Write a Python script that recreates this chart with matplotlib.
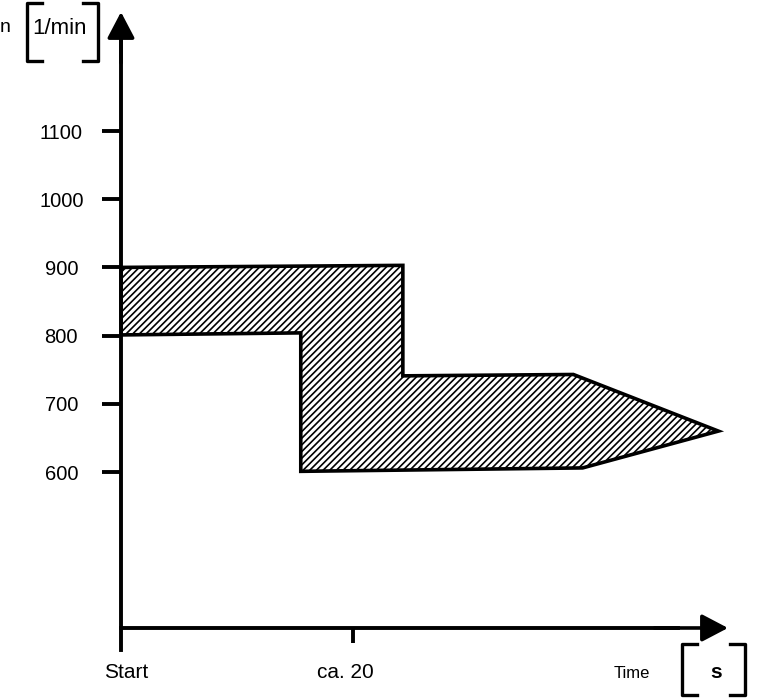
import matplotlib.pyplot as plt
from matplotlib.lines import Line2D
from matplotlib.transforms import ScaledTranslation

plt.rcParams['font.family'] = ['Liberation Sans', 'DejaVu Sans']
plt.rcParams['hatch.linewidth'] = 1.2

# speed band (n in 1/min) over time (s)
upper_t = [0, 24.3, 24.3, 39.0, 51.5]
upper_n = [900, 903, 741, 743, 660]
lower_t = [51.5, 39.8, 15.5, 15.5, 0]
lower_n = [660, 606, 601, 804, 801]

y_ticks = [600, 700, 800, 900, 1000, 1100]
x_ticks = [0, 20]
x_labels = ['Start', 'ca. 20']

fig = plt.figure(figsize=(7.68, 7.0), dpi=100)
ax = fig.add_axes([0, 0, 1, 1])
ax.set_xlim(-10.43, 55.78)
ax.set_ylim(265.7, 1292.1)

# hatched band
ax.fill(upper_t + lower_t, upper_n + lower_n, facecolor='white',
        edgecolor='black', hatch='/////', linewidth=2.6, joinstyle='miter')

# axes as crossing spines
x_axis_at = 371.3
for s in ['top', 'right']:
    ax.spines[s].set_visible(False)
ax.spines['left'].set_position(('data', 0))
ax.spines['left'].set_bounds(339, 1240)
ax.spines['left'].set_linewidth(2.8)
ax.spines['bottom'].set_position(('data', x_axis_at))
ax.spines['bottom'].set_bounds(0, 48)
ax.spines['bottom'].set_linewidth(2.8)

arrow = dict(arrowstyle='-|>,head_length=0.8,head_width=0.42', lw=2.6,
             color='black', shrinkA=0, shrinkB=0, mutation_scale=20)
ax.annotate('', xy=(0, 1274.5), xytext=(0, 1200), arrowprops=arrow)
ax.annotate('', xy=(52.33, x_axis_at), xytext=(46, x_axis_at), arrowprops=arrow)

ax.set_yticks(y_ticks)
ax.set_yticklabels([str(v) for v in y_ticks])
ax.tick_params(axis='y', length=14, width=2.8, pad=29, labelsize=14.5)
for lab in ax.get_yticklabels():
    lab.set_ha('center')

ax.set_xticks(x_ticks)
ax.set_xticklabels(x_labels)
ax.tick_params(axis='x', length=11, width=2.8, pad=14, labelsize=15)
ax.xaxis.get_major_ticks()[0].tick1line.set_visible(False)
for lab, dx in zip(ax.get_xticklabels(), [5, -8]):
    lab.set_transform(lab.get_transform() +
                      ScaledTranslation(dx / 100, 0, fig.dpi_scale_trans))

# unit labels with brackets (figure pixel coordinates)
W, H = 768, 700


def fig_text(x, y, s, **kw):
    fig.text(x / W, 1 - y / H, s, ha='center', va='center', **kw)


def bracket(x0, x1, y0, y1, serif=15):
    for xs, ys in [([x0 + serif, x0, x0, x0 + serif], [y0, y0, y1, y1]),
                   ([x1 - serif, x1, x1, x1 - serif], [y0, y0, y1, y1])]:
        fig.add_artist(Line2D([v / W for v in xs], [1 - v / H for v in ys],
                              color='black', lw=2.4))


fig_text(5, 28, 'n', fontsize=14)
fig_text(60, 28, '1/min', fontsize=16)
bracket(27, 98, 3, 61)

fig_text(632, 673, 'Time', fontsize=12)
fig_text(716, 672, 's', fontsize=15, fontweight='bold')
bracket(682, 745, 644, 695)

fig.savefig('out.png', dpi=100)
